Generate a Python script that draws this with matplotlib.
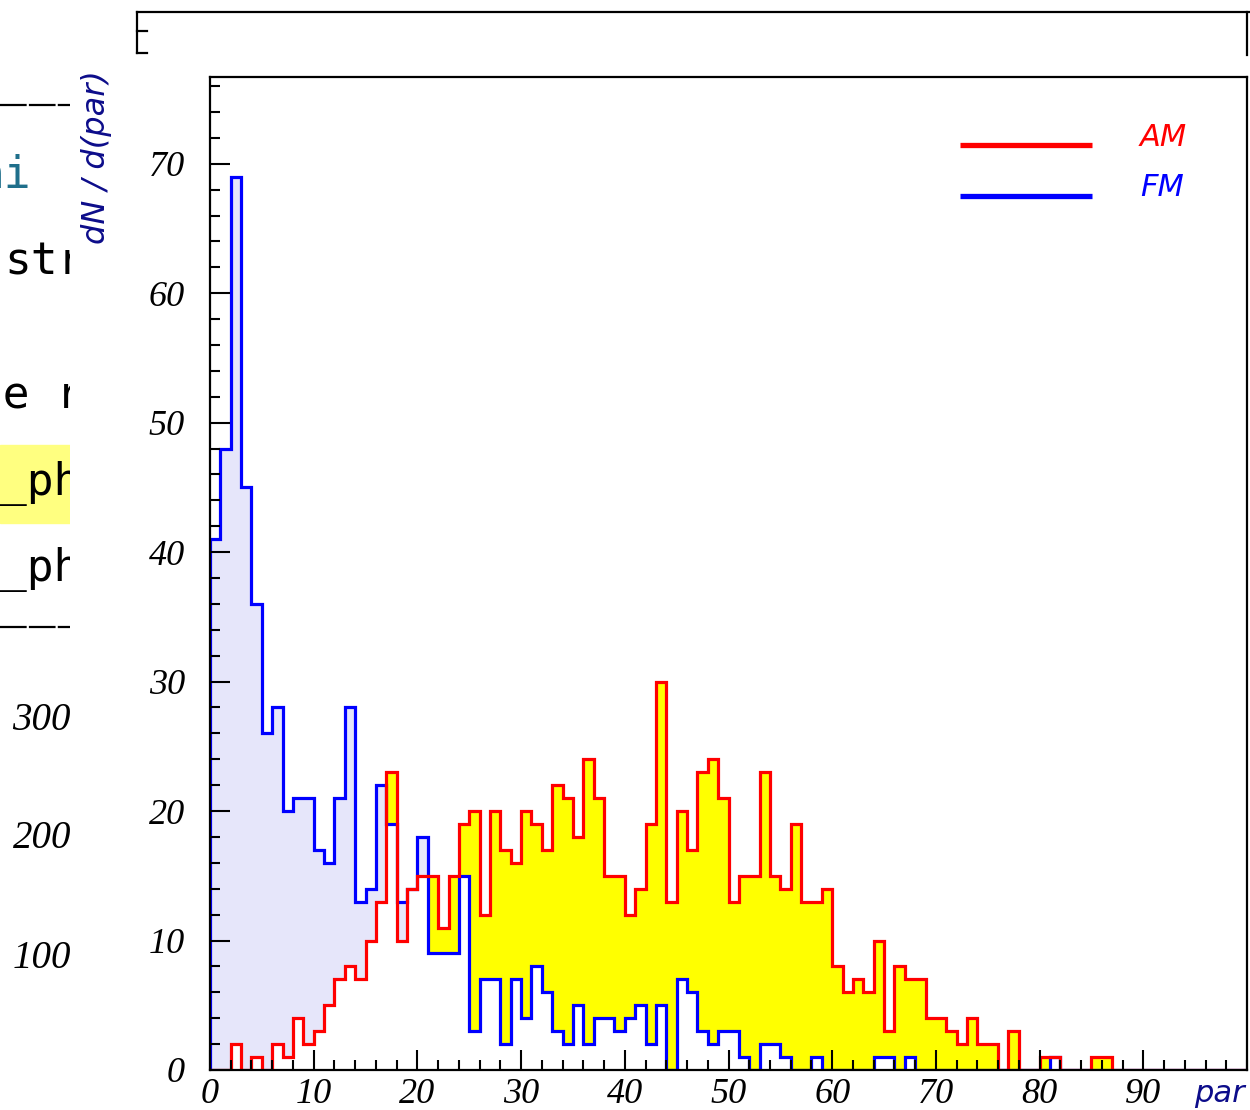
import numpy as np
import matplotlib.pyplot as plt
from matplotlib.patches import Rectangle

# histogram contents, 100 bins of width 1 from 0 to 100
edges = np.arange(0, 101, 1)
fm = np.array([41, 48, 69, 45, 36, 26, 28, 20, 21, 21,
               17, 16, 21, 28, 13, 14, 22, 19, 13, 14,
               18, 9, 9, 9, 15, 3, 7, 7, 2, 7,
               4, 8, 6, 3, 2, 5, 2, 4, 4, 3,
               4, 5, 2, 5, 0, 7, 6, 3, 2, 3,
               3, 1, 0, 2, 2, 1, 0, 0, 1, 0,
               0, 0, 0, 0, 1, 1, 0, 1, 0, 0,
               0, 0, 0, 0, 0, 0, 0, 0, 0, 0,
               0, 1, 0, 0, 0, 0, 0, 0, 0, 0,
               0, 0, 0, 0, 0, 0, 0, 0, 0, 0])
am = np.array([0, 0, 2, 0, 1, 0, 2, 1, 4, 2,
               3, 5, 7, 8, 7, 10, 13, 23, 10, 14,
               15, 15, 11, 15, 19, 20, 12, 20, 17, 16,
               20, 19, 17, 22, 21, 18, 24, 21, 15, 15,
               12, 14, 19, 30, 13, 20, 17, 23, 24, 21,
               13, 15, 15, 23, 15, 14, 19, 13, 13, 14,
               8, 6, 7, 6, 10, 3, 8, 7, 7, 4,
               4, 3, 2, 4, 2, 2, 0, 3, 0, 0,
               1, 1, 0, 0, 0, 1, 1, 0, 0, 0,
               0, 0, 0, 0, 0, 0, 0, 0, 0, 0])

xticks = list(range(0, 100, 10))
yticks = list(range(0, 80, 10))
side_labels = ['300', '200', '100']

W, H = 1250, 1110
fig = plt.figure(figsize=(W / 100, H / 100), dpi=100)

serif = 'Liberation Serif'
navy = '#0c0c8a'

# main histogram frame
ax = fig.add_axes([210 / W, 1 - 1070 / H, (1247 - 210) / W, (1070 - 77) / H])
top = np.maximum(am, fm)
ax.stairs(top, edges, baseline=fm, fill=True, color='#ffff00', lw=0)
ax.stairs(top, edges, baseline=am, fill=True, color='#e6e6fa', lw=0)
ax.stairs(fm, edges, color='#0000ff', lw=2.3)
ax.stairs(am, edges, color='#ff0000', lw=2.3)

ax.set_xlim(0, 100)
ax.set_ylim(0, 76.7)
ax.set_xticks(xticks, [str(t) for t in xticks], fontfamily=serif,
              fontstyle='italic', fontsize=26)
ax.set_yticks(yticks, [str(t) for t in yticks], fontfamily=serif,
              fontstyle='italic', fontsize=26)
ax.set_xticks(np.arange(0, 101, 2), minor=True)
ax.set_yticks(np.arange(0, 77, 2), minor=True)
ax.tick_params(which='both', direction='in', top=False, right=False,
               width=1.5, colors='black')
ax.tick_params(which='major', length=14.5)
ax.tick_params(which='minor', length=7.2)
ax.tick_params(axis='x', pad=6)
ax.tick_params(axis='y', pad=18)
for s in ax.spines.values():
    s.set_linewidth(1.6)

# overlay in pixel coordinates for the loose pieces of the screenshot
ov = fig.add_axes([0, 0, 1, 1])
ov.set_xlim(0, W)
ov.set_ylim(H, 0)
ov.axis('off')

# box of the canvas behind
ov.plot([137, 1250], [12, 12], color='black', lw=1.6)
ov.plot([137, 137], [12, 53], color='black', lw=1.6)
ov.plot([137, 147], [31, 31], color='black', lw=1.6)
ov.plot([137, 147], [53, 53], color='black', lw=1.6)
ov.plot([1247, 1247], [12, 55], color='black', lw=1.6)

# legend
ov.plot([960, 1092], [145, 145], color='#ff0000', lw=3.8, solid_capstyle='butt')
ov.plot([960, 1092], [196, 196], color='#0000ff', lw=3.8, solid_capstyle='butt')
ov.text(1140, 137, 'AM', color='#ff0000', fontsize=22, fontstyle='italic',
        ha='left', va='center')
ov.text(1140, 188, 'FM', color='#0000ff', fontsize=22, fontstyle='italic',
        ha='left', va='center')

# axis titles
ov.text(97, 157, 'dN / d(par)', color=navy, fontsize=23, fontstyle='italic',
        rotation=90, ha='center', va='center')
ov.text(1245, 1093, 'par', color=navy, fontsize=22, fontstyle='italic',
        ha='right', va='center')

# tick labels of the other plot on the left
for lab, y in zip(side_labels, [720, 839, 958]):
    ov.text(71, y, lab, fontsize=28, fontfamily=serif, fontstyle='italic',
            ha='right', va='center')

# clipped code editor strip on the far left
code = fig.add_axes([0, 0, 70 / W, 1])
code.set_xlim(0, 70)
code.set_ylim(H, 0)
code.axis('off')
code.add_patch(Rectangle((0, 445), 70, 78, color='#ffff80', zorder=0))
code.plot([0, 70], [105, 105], color='black', lw=1.6, ls=(0, (12, 1)))
code.plot([0, 70], [627, 627], color='black', lw=1.6, ls=(0, (12, 1)))
mono = 'DejaVu Sans Mono'
rows = [('ni', -22, 175, '#1f6f8b'),
        ('str', 4, 262, 'black'),
        ('he r', -24, 395, 'black'),
        ('_ph', 0, 483, 'black'),
        ('_ph', 0, 570, 'black')]
for txt, x, y, c in rows:
    code.text(x, y, txt, fontsize=32, fontfamily=mono, color=c,
              ha='left', va='center', clip_on=True)

plt.savefig('out.png', dpi=100)
